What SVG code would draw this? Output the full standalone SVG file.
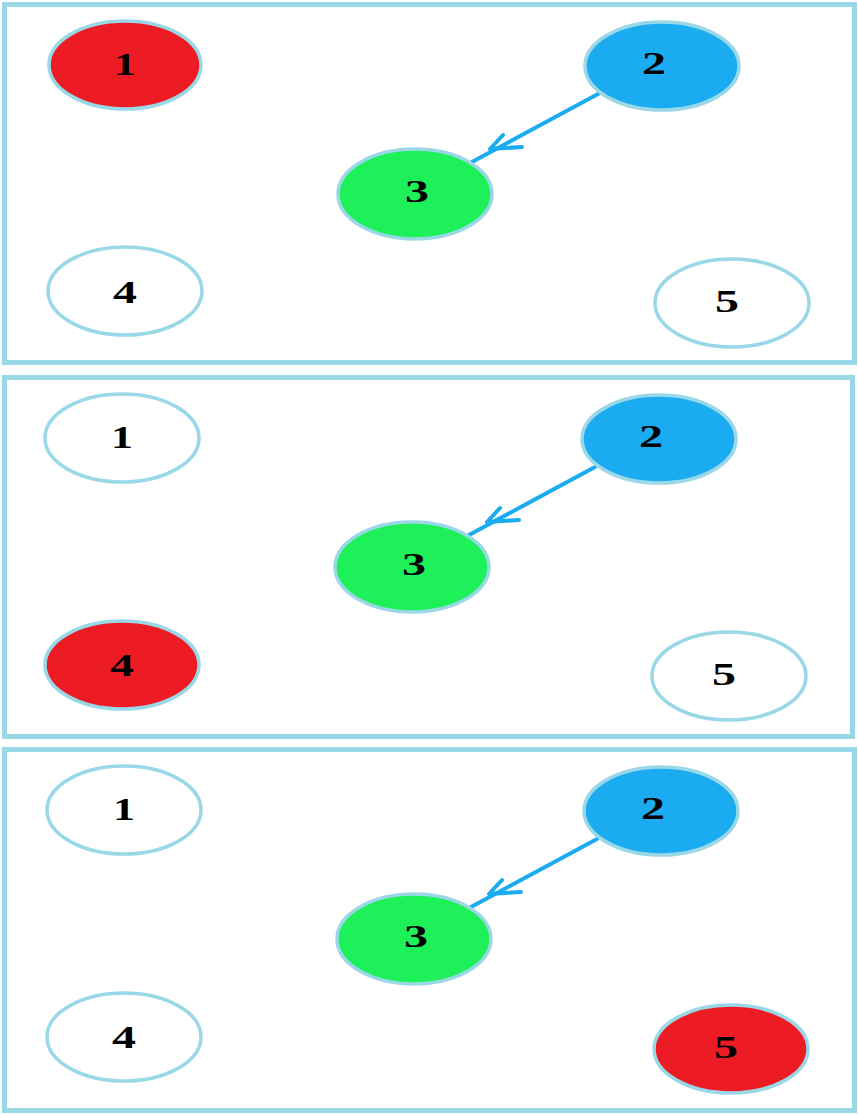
<svg xmlns="http://www.w3.org/2000/svg" width="858" height="1115" viewBox="0 0 858 1115">
  <defs>
    <style>
      .frame { fill: #ffffff; stroke: #9ad8e8; stroke-width: 5; }
      .node { stroke: #9ad8e8; stroke-width: 3.5; }
      .plain { fill: #ffffff; }
      .active { fill: #ed1c24; }
      .src { fill: #1aabf0; }
      .dst { fill: #1ef05a; }
      .label { font-family: "Liberation Serif", "DejaVu Serif", serif; font-weight: bold; font-size: 32px; fill: #000000; text-anchor: middle; dominant-baseline: central; }
      .edge { fill: none; stroke: #1aabf0; stroke-width: 4; stroke-linecap: round; stroke-linejoin: round; }
    </style>
  </defs>

  <!-- Panel 1: node 1 highlighted -->
  <g id="panel1">
    <rect class="frame" x="4.5" y="4.5" width="850" height="358"/>
    <g id="p1-connectors">
      <path class="edge" d="M598,94 L472,162"/>
      <path class="edge" d="M503,135 L490,149 L522,147"/>
    </g>
    <g id="p1-n1"><ellipse class="node active" cx="125" cy="65" rx="76" ry="44"/><text class="label" x="125" y="64" textLength="22" lengthAdjust="spacingAndGlyphs">1</text></g>
    <g id="p1-n2"><ellipse class="node src" cx="662" cy="66" rx="77" ry="44"/><text class="label" x="654" y="63" textLength="24" lengthAdjust="spacingAndGlyphs">2</text></g>
    <g id="p1-n3"><ellipse class="node dst" cx="415" cy="194" rx="77" ry="45"/><text class="label" x="417" y="191" textLength="24" lengthAdjust="spacingAndGlyphs">3</text></g>
    <g id="p1-n4"><ellipse class="node plain" cx="125" cy="291" rx="77" ry="44"/><text class="label" x="125" y="292" textLength="24" lengthAdjust="spacingAndGlyphs">4</text></g>
    <g id="p1-n5"><ellipse class="node plain" cx="732" cy="303" rx="77" ry="44"/><text class="label" x="727" y="301" textLength="24" lengthAdjust="spacingAndGlyphs">5</text></g>
  </g>

  <!-- Panel 2: node 4 highlighted -->
  <g id="panel2">
    <rect class="frame" x="4.5" y="377.5" width="848" height="359"/>
    <g id="p2-connectors">
      <path class="edge" d="M595,467 L469,535"/>
      <path class="edge" d="M500,508 L487,522 L519,520"/>
    </g>
    <g id="p2-n1"><ellipse class="node plain" cx="122" cy="438" rx="77" ry="44"/><text class="label" x="122" y="437" textLength="22" lengthAdjust="spacingAndGlyphs">1</text></g>
    <g id="p2-n2"><ellipse class="node src" cx="659" cy="439" rx="77" ry="44"/><text class="label" x="651" y="436" textLength="24" lengthAdjust="spacingAndGlyphs">2</text></g>
    <g id="p2-n3"><ellipse class="node dst" cx="412" cy="567" rx="77" ry="45"/><text class="label" x="414" y="564" textLength="24" lengthAdjust="spacingAndGlyphs">3</text></g>
    <g id="p2-n4"><ellipse class="node active" cx="122" cy="665" rx="77" ry="44"/><text class="label" x="122" y="665" textLength="24" lengthAdjust="spacingAndGlyphs">4</text></g>
    <g id="p2-n5"><ellipse class="node plain" cx="729" cy="676" rx="77" ry="44"/><text class="label" x="724" y="674" textLength="24" lengthAdjust="spacingAndGlyphs">5</text></g>
  </g>

  <!-- Panel 3: node 5 highlighted -->
  <g id="panel3">
    <rect class="frame" x="4.5" y="749.5" width="850" height="361"/>
    <g id="p3-connectors">
      <path class="edge" d="M597,839 L471,907"/>
      <path class="edge" d="M502,880 L489,894 L521,892"/>
    </g>
    <g id="p3-n1"><ellipse class="node plain" cx="124" cy="810" rx="77" ry="44"/><text class="label" x="124" y="809" textLength="22" lengthAdjust="spacingAndGlyphs">1</text></g>
    <g id="p3-n2"><ellipse class="node src" cx="661" cy="811" rx="77" ry="44"/><text class="label" x="653" y="808" textLength="24" lengthAdjust="spacingAndGlyphs">2</text></g>
    <g id="p3-n3"><ellipse class="node dst" cx="414" cy="939" rx="77" ry="45"/><text class="label" x="416" y="936" textLength="24" lengthAdjust="spacingAndGlyphs">3</text></g>
    <g id="p3-n4"><ellipse class="node plain" cx="124" cy="1037" rx="77" ry="44"/><text class="label" x="124" y="1037" textLength="24" lengthAdjust="spacingAndGlyphs">4</text></g>
    <g id="p3-n5"><ellipse class="node active" cx="731" cy="1049" rx="77" ry="44"/><text class="label" x="726" y="1047" textLength="24" lengthAdjust="spacingAndGlyphs">5</text></g>
  </g>
</svg>
